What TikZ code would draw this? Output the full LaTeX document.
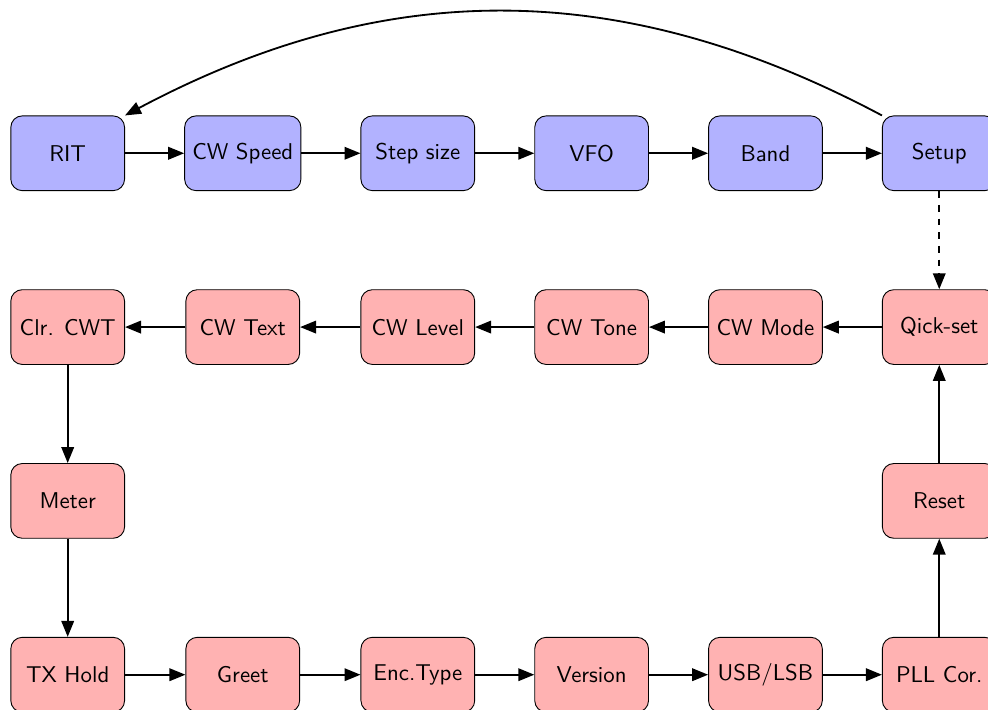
\documentclass[tikz,border=0pt]{standalone}
\usetikzlibrary{matrix,arrows.meta}

\begin{document}
\begin{tikzpicture} [menu/.style={draw, rounded corners=5pt, font=\sffamily,
	minimum width=1.75cm, minimum height=1.15cm, anchor=center},
	link/.style={thick, -{Triangle[length=7pt, width=5.5pt]}}]
	
	\useasboundingbox (-7.746,6.369) rectangle (7.454,-4.554);
	
	\matrix(menu)[matrix of nodes,
	column sep=0.91cm, row sep=1.51cm,
	row 1/.style={nodes={menu, fill=blue!30}},
	nodes={menu, fill=red!30}]
	{
		RIT & CW Speed & Step size & VFO & Band & Setup \\
		Clr. CWT & CW Text & CW Level & CW Tone & CW Mode & Qick-set \\
		Meter & & & & & Reset \\
		TX Hold & Greet & Enc.Type & Version & USB/LSB & PLL Cor. \\
	};
	
	% main menu
	\draw[link] (menu-1-1) -- (menu-1-2);
	\draw[link] (menu-1-2) -- (menu-1-3);
	\draw[link] (menu-1-3) -- (menu-1-4);
	\draw[link] (menu-1-4) -- (menu-1-5);
	\draw[link] (menu-1-5) -- (menu-1-6);
	\draw[link] (menu-1-6.north west) to[bend right=28] (menu-1-1.north east);
	\draw[link, dashed] (menu-1-6) -- (menu-2-6);
	
	% setup menu
	\draw[link] (menu-2-6) -- (menu-2-5);
	\draw[link] (menu-2-5) -- (menu-2-4);
	\draw[link] (menu-2-4) -- (menu-2-3);
	\draw[link] (menu-2-3) -- (menu-2-2);
	\draw[link] (menu-2-2) -- (menu-2-1);
	\draw[link] (menu-2-1) -- (menu-3-1);
	\draw[link] (menu-3-1) -- (menu-4-1);
	\draw[link] (menu-4-1) -- (menu-4-2);
	\draw[link] (menu-4-2) -- (menu-4-3);
	\draw[link] (menu-4-3) -- (menu-4-4);
	\draw[link] (menu-4-4) -- (menu-4-5);
	\draw[link] (menu-4-5) -- (menu-4-6);
	\draw[link] (menu-4-6) -- (menu-3-6);
	\draw[link] (menu-3-6) -- (menu-2-6);
\end{tikzpicture}
\end{document}
